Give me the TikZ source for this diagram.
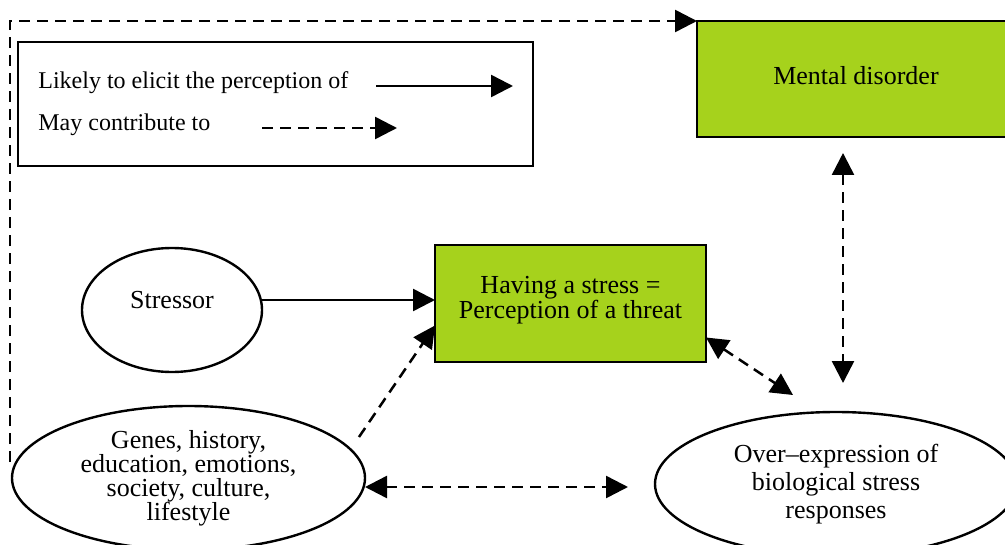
\documentclass[tikz,border=0pt]{standalone}
\usepackage{fontspec}
\setmainfont{Liberation Serif}
\usepackage{tikz}
\usetikzlibrary{arrows.meta}
\usetikzlibrary{shapes.geometric}
\definecolor{threatgreen}{HTML}{A6D21C}
\newcommand{\tipsize}{11pt}
\newcommand{\bodyfont}{\fontsize{13}{12.5}\selectfont}
\tikzstyle{box}=[draw, line width=1.2pt, inner sep=0, outer sep=0, align=center, font=\bodyfont]
\tikzstyle{gbox}=[box, rectangle, fill=threatgreen]
\tikzstyle{ebox}=[box, ellipse]
\tikzstyle{solidarrow}=[line width=1.25pt, -{Triangle[length=\tipsize, width=\tipsize]}]
\tikzstyle{dasharrow}=[solidarrow, dash pattern=on 5.5pt off 3.5pt]
\tikzstyle{dasharrows}=[dasharrow, {Triangle[length=\tipsize, width=\tipsize]}-{Triangle[length=\tipsize, width=\tipsize]}]
\tikzstyle{legendtext}=[inner sep=0, anchor=base west, font=\fontsize{12}{14}\selectfont]
\tikzstyle{stressdiagram}=[x=0.5pt, y=-0.5pt,
                           % Fix the page to the size of the figure.
                           execute at begin picture={\useasboundingbox (0, 0) rectangle (1005, 545); \clip (0, 0) rectangle (1005, 545);}]
\begin{document}
\begin{tikzpicture}[stressdiagram]
        % Legend.
        \node[draw, line width=1pt, minimum width=257.5pt, minimum height=62pt] (legend) at (275.5, 104) {};
        \node[legendtext] (likely) at (38, 89) {Likely to elicit the perception of};
        \node[legendtext] (may) at (38, 131) {May contribute to};
        \coordinate (likelyfrom) at (376, 86);
        \coordinate (likelyto) at (513, 86);
        \coordinate (mayfrom) at (262, 128);
        \coordinate (mayto) at (397, 128);
        \draw[solidarrow] (likelyfrom) -- (likelyto);
        \draw[dasharrow] (mayfrom) -- (mayto);

        \node[gbox, minimum width=159pt, minimum height=58pt, text depth=4pt] (mental) at (856, 79) {Mental disorder};
        \node[gbox, minimum width=135.5pt, minimum height=58.5pt, text depth=6pt] (stress) at (570.5, 303.5) {Having a stress =\\Perception of a threat};
        \node[ebox, minimum width=90pt, minimum height=62pt, text depth=10pt] (stressor) at (172, 310) {Stressor};
        \node[ebox, minimum width=176.5pt, minimum height=72pt, font=\fontsize{13}{12}\selectfont] (genes) at (188.5, 478) {Genes, history,\\education, emotions,\\society, culture,\\lifestyle};
        \node[ebox, minimum width=181pt, minimum height=72pt, font=\fontsize{13}{14}\selectfont] (over) at (836, 484) {Over--expression of\\biological stress\\responses};

        \draw[solidarrow] ([yshift=5pt]stressor.east) -- ([yshift=5pt]stressor.east -| stress.west);
        \draw[dasharrow, shorten <=7.5pt] (genes.10) -- ([yshift=-11pt]stress.west);
        \draw[dasharrows, shorten >=13.5pt] ([yshift=-4.5pt]genes.east) -- ([yshift=-4.5pt]genes.east -| over.west);
        \draw[dasharrows] ([yshift=-17pt]stress.east) -- ([shift={(-21.5pt, 8.5pt)}]over.north);
        \draw[dasharrows, shorten <=8pt, shorten >=14.5pt] ([xshift=-6.5pt]mental.south) -- ([xshift=-6.5pt]mental.south |- over.north);
        \draw[dasharrow] ([shift={(-1pt, 8pt)}]genes.west) |- (mental.north west);
    \end{tikzpicture}
\end{document}
